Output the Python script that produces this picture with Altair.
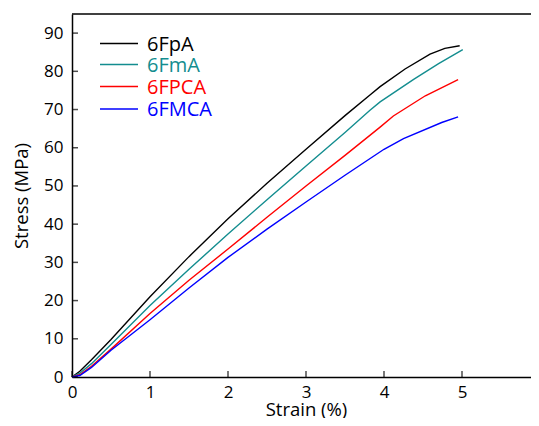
import altair as alt
import pandas as pd

series_names = ["6FpA", "6FmA", "6FPCA", "6FMCA"]
series_colors = ["#000000", "#138d8f", "#ff0000", "#0000ff"]

strain_6FpA = [0, 0.1, 0.25, 0.5, 1.0, 1.5, 2.0, 2.5, 3.0, 3.5, 3.82, 3.95, 4.27, 4.59, 4.78, 4.97]
stress_6FpA = [0, 1.5, 4.5, 9.8, 21.0, 31.5, 41.4, 50.7, 59.6, 68.4, 73.8, 76.0, 80.6, 84.5, 86.0, 86.7]

strain_6FmA = [0, 0.1, 0.25, 0.5, 1.0, 1.5, 2.0, 2.5, 3.0, 3.5, 3.82, 3.95, 4.38, 4.7, 5.01]
stress_6FmA = [0, 1.0, 3.5, 8.5, 18.7, 28.2, 37.4, 46.4, 55.2, 64.0, 69.8, 72.0, 77.9, 82.0, 85.7]

strain_6FPCA = [0, 0.1, 0.25, 0.5, 1.0, 1.5, 2.0, 2.5, 3.0, 3.5, 3.95, 4.12, 4.53, 4.95]
stress_6FPCA = [0, 0.6, 2.8, 7.3, 16.6, 25.3, 33.5, 41.8, 50.0, 58.0, 65.4, 68.3, 73.6, 77.8]

strain_6FMCA = [0, 0.1, 0.25, 0.5, 1.0, 1.5, 2.0, 2.5, 3.0, 3.5, 4.0, 4.25, 4.74, 4.95]
stress_6FMCA = [0, 0.4, 2.5, 7.0, 15.0, 23.3, 31.3, 38.7, 45.8, 52.8, 59.6, 62.4, 66.6, 68.1]

x_ticks = [0, 1, 2, 3, 4, 5, 6]
y_ticks = [0, 10, 20, 30, 40, 50, 60, 70, 80, 90]

rows = []
for name, xs, ys in [
    ("6FpA", strain_6FpA, stress_6FpA),
    ("6FmA", strain_6FmA, stress_6FmA),
    ("6FPCA", strain_6FPCA, stress_6FPCA),
    ("6FMCA", strain_6FMCA, stress_6FMCA),
]:
    for i, (a, b) in enumerate(zip(xs, ys)):
        rows.append({"series": name, "strain": a, "stress": b, "order": i})
df = pd.DataFrame(rows)

PL, PT = 64, 6
SVG_W, SVG_H = 523, 410
W = SVG_W - PL
H = 363
XR = 468
FONT = "Open Sans"

xscale = alt.Scale(domain=[0, 6], range=[0, XR], nice=False, zero=False)
yscale = alt.Scale(domain=[0, 95], nice=False, zero=False)
cscale = alt.Scale(domain=series_names, range=series_colors)

lines = alt.Chart(df).mark_line(strokeWidth=1.4).encode(
    x=alt.X("strain:Q", scale=xscale,
            axis=alt.Axis(title="Strain (%)", values=x_ticks, format="d", tickSize=0, labelPadding=7,
                          labelFontSize=17, titleFontSize=18.5, titlePadding=0,
                          titleX=234, labelFlush=False, grid=False)),
    y=alt.Y("stress:Q", scale=yscale,
            axis=alt.Axis(title="Stress (MPa)", values=y_ticks, format="d", tickSize=0, labelPadding=9,
                          labelFontSize=17, titleFontSize=18.5, titlePadding=12, grid=False)),
    color=alt.Color("series:N", scale=cscale, legend=None),
    order="order:Q",
    detail="series:N",
)

xt = alt.Chart(pd.DataFrame({"v": x_ticks})).mark_tick(color="black", thickness=1.5, size=6).encode(
    x=alt.X("v:Q", scale=xscale), y=alt.value(H - 3))
yt = alt.Chart(pd.DataFrame({"v": y_ticks})).mark_tick(color="black", thickness=1.5, size=6, orient="horizontal").encode(
    y=alt.Y("v:Q", scale=yscale), x=alt.value(3))

top_border = alt.Chart(pd.DataFrame({"a": [0]})).mark_rule(color="black", strokeWidth=1.5).encode(
    x=alt.value(0), x2=alt.value(XR + 10), y=alt.value(0))

legend_layers = []
leg_y = [29.5, 50.5, 72.5, 95]
for name, col, yy in zip(series_names, series_colors, leg_y):
    d = pd.DataFrame({"series": [name]})
    legend_layers.append(
        alt.Chart(d).mark_rule(color=col, strokeWidth=1.4).encode(
            x=alt.value(28), x2=alt.value(66), y=alt.value(yy)))
    legend_layers.append(
        alt.Chart(d).mark_text(color=col, fontSize=20, font=FONT, align="left", baseline="middle").encode(
            x=alt.value(75), y=alt.value(yy + 1), text="series:N"))

chart = alt.layer(lines, xt, yt, top_border, *legend_layers).properties(
    width=W, height=H,
    autosize=alt.AutoSizeParams(type="none"),
    padding={"left": PL, "top": PT, "right": 0, "bottom": SVG_H - PT - H},
).configure_view(strokeWidth=0).configure_axis(
    domainColor="black", domainWidth=1.5, labelColor="black", titleColor="black",
    labelFont=FONT, titleFont=FONT, titleFontWeight="normal",
)

chart.save("out.html", embed_options={"renderer": "svg", "actions": False})
